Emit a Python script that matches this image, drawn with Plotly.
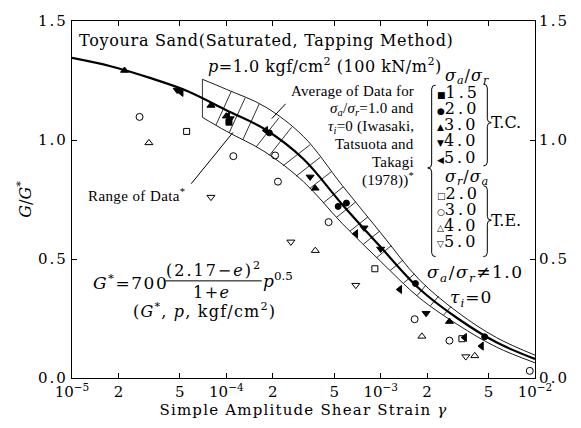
import numpy as np
import plotly.graph_objects as go

# ---------------- data ----------------
# main curve G/G* vs strain
curve_x = [1e-5, 1.78e-5, 3.16e-5, 5.62e-5, 1e-4, 1.78e-4, 3.16e-4, 5.62e-4, 1e-3, 1.78e-3, 3.16e-3, 5.62e-3, 1e-2]
curve_y = [1.345, 1.31, 1.262, 1.205, 1.125, 1.045, 0.92, 0.73, 0.55, 0.375, 0.25, 0.15, 0.08]

# range band (sigma_a/sigma_r = 1.0)
band_x = [7.0e-5, 1e-4, 1.78e-4, 3.16e-4, 5.62e-4, 1e-3, 1.78e-3, 3.16e-3, 5.62e-3, 1e-2]
band_upper = [1.255, 1.213, 1.14, 1.015, 0.81, 0.61, 0.413, 0.276, 0.17, 0.096]
band_lower = [1.095, 1.037, 0.95, 0.825, 0.65, 0.49, 0.337, 0.224, 0.13, 0.064]
hatch_end = 2.8e-3

# T.C. (filled) sigma_a/sigma_r
tc15_x = [1.04e-4]
tc15_y = [1.075]
tc20_x = [1.9e-4, 5.3e-4, 6.0e-4, 1.68e-3, 4.72e-3]
tc20_y = [1.03, 0.721, 0.735, 0.397, 0.173]
tc30_x = [2.19e-5, 7.95e-5, 1.0e-4, 3.76e-4, 2.79e-3]
tc30_y = [1.292, 1.145, 1.10, 0.797, 0.237]
tc40_x = [4.8e-5, 1.06e-4, 3.49e-4, 7.8e-4, 1.0e-3, 1.97e-3]
tc40_y = [1.21, 1.09, 0.845, 0.631, 0.542, 0.272]
tc50_x = [5.1e-5, 1.02e-4, 1.8e-4, 6.9e-4, 1.33e-3, 3.5e-3, 4.5e-3]
tc50_y = [1.20, 1.10, 1.04, 0.606, 0.372, 0.17, 0.134]

# T.E. (open) sigma_r/sigma_a
te20_x = [5.53e-5, 9.17e-4, 3.36e-3]
te20_y = [1.036, 0.459, 0.165]
te30_x = [2.74e-5, 1.11e-4, 2.07e-4, 2.16e-4, 4.6e-4, 1.66e-3, 2.79e-3, 9.25e-3]
te30_y = [1.097, 0.932, 0.935, 0.825, 0.655, 0.247, 0.157, 0.03]
te40_x = [3.15e-5, 3.77e-4, 1.85e-3, 4.07e-3]
te40_y = [0.988, 0.535, 0.175, 0.093]
te50_x = [7.95e-5, 2.62e-4, 6.9e-4, 3.56e-3]
te50_y = [0.76, 0.572, 0.39, 0.09]

x_tickvals = [1e-5, 2e-5, 5e-5, 1e-4, 2e-4, 5e-4, 1e-3, 2e-3, 5e-3, 1e-2]
x_ticktext = ["10<sup>−5</sup>", "2", "5", "10<sup>−4</sup>", "2", "5",
              "10<sup>−3</sup>", "2", "5", "10<sup>−2</sup>"]
y_tickvals = [0.0, 0.5, 1.0, 1.5]
y_ticktext = ["0.0", "0.5", "1.0", "1.5"]

# ---------------- layout geometry ----------------
WIDTH, HEIGHT = 581, 428
ML, MR, MT, MB = 72, 43, 17, 49
PW, PH = WIDTH - ML - MR, HEIGHT - MT - MB
SERIF = "DejaVu Serif"
TIMES = "Liberation Serif"


def sp(s, ls):
    return f'<span style="letter-spacing:{ls}px">{s}</span>'


def px2paper(px, py):
    return (px - ML) / PW, (HEIGHT - MB - py) / PH


fig = go.Figure()

# band edges
for by in (band_upper, band_lower):
    fig.add_trace(go.Scatter(x=band_x, y=by, mode="lines", line=dict(color="black", width=0.9, shape="spline"),
                             showlegend=False, hoverinfo="skip"))

# hatch lines (perpendicular cross-lines between band edges)
sx, sy = PW / 3.0, PH / 1.5
lbx = np.log10(band_x)
fine = np.linspace(lbx[0], lbx[-1], 2000)
up_f = np.interp(fine, lbx, band_upper)
lo_f = np.interp(fine, lbx, band_lower)
step = 13.5 / sx
hx, hy = [], []
t = lbx[0]
first = True
while t <= np.log10(hatch_end) + 1e-9:
    i = int(np.argmin(np.abs(fine - t)))
    d = np.hypot((fine - fine[i]) * sx, (up_f - lo_f[i]) * sy)
    j = 0 if first else int(np.argmin(d))
    first = False
    hx += [10 ** fine[i], 10 ** fine[j], None]
    hy += [lo_f[i], up_f[j], None]
    t += step
fig.add_trace(go.Scatter(x=hx, y=hy, mode="lines", line=dict(color="black", width=0.8),
                         showlegend=False, hoverinfo="skip"))

# main curve
fig.add_trace(go.Scatter(x=curve_x, y=curve_y, mode="lines", line=dict(color="black", width=2.2, shape="spline"),
                         showlegend=False, hoverinfo="skip"))


# data markers
def add_pts(xs, ys, symbol, size):
    fig.add_trace(go.Scatter(x=xs, y=ys, mode="markers",
                             marker=dict(symbol=symbol, size=size, color="black",
                                         line=dict(color="black", width=1)),
                             showlegend=False, hoverinfo="skip"))


add_pts(tc15_x, tc15_y, "square", 6)
add_pts(tc20_x, tc20_y, "circle", 6)
add_pts(tc30_x, tc30_y, "triangle-up", 7)
add_pts(tc40_x, tc40_y, "triangle-down", 7)
add_pts(tc50_x, tc50_y, "triangle-left", 7)
add_pts(te20_x, te20_y, "square-open", 6)
add_pts(te30_x, te30_y, "circle-open", 7)
add_pts(te40_x, te40_y, "triangle-up-open", 7)
add_pts(te50_x, te50_y, "triangle-down-open", 7)

# invisible trace for right axis
fig.add_trace(go.Scatter(x=[1e-4], y=[0.5], yaxis="y2", mode="markers", marker=dict(opacity=0),
                         showlegend=False, hoverinfo="skip"))

ann = []


def text(px, py, s, anchor="left", size=14, family=SERIF):
    x, y = px2paper(px, py)
    ann.append(dict(x=x, y=y, xref="paper", yref="paper", text=s, showarrow=False,
                    xanchor=anchor, yanchor="middle", font=dict(family=family, size=size, color="black")))


text(77, 37, sp("Toyoura Sand(Saturated, Tapping Method)", 0.7), size=16)
text(446, 62, sp("<i>p</i>=1.0 kgf/cm<sup>2</sup> (100 kN/m<sup>2</sup>)", 0.5), anchor="right", size=16)
avg_lines = ["Average of Data for",
             "<i>σ<sub>a</sub></i>/<i>σ<sub>r</sub></i>=1.0 and",
             "<i>τ<sub>i</sub></i>=0 (Iwasaki,",
             "Tatsuota and",
             "Takagi",
             "(1978))<sup>*</sup>"]
for k, s in enumerate(avg_lines):
    text(418, 88 + 18 * k, sp(s, 0.2), anchor="right", size=15, family=TIMES)

text(445, 73, sp("<i>σ<sub>a</sub></i>/<i>σ<sub>r</sub></i>", 1), size=16)
tc_labels = ["■", "●", "▲", "▼", "◀"]
tc_vals = ["1.5", "2.0", "3.0", "4.0", "5.0"]
tc_ys = [89, 105.5, 122, 138.5, 155]
for m, v, yy in zip(tc_labels, tc_vals, tc_ys):
    text(437, yy, '<span style="font-size:9px">' + m + "</span>" + sp(v, 3), size=16)
text(492, 120, "T.C.", size=16)
text(445, 176, sp("<i>σ<sub>r</sub></i>/<i>σ<sub>a</sub></i>", 1), size=16)
te_labels = ["□", "○", "△", "▽"]
te_vals = ["2.0", "3.0", "4.0", "5.0"]
te_ys = [192, 208, 224.5, 241]
for m, v, yy in zip(te_labels, te_vals, te_ys):
    text(437, yy, '<span style="font-size:9px">' + m + "</span>" + sp(v, 3), size=16)
text(492, 219, "T.E.", size=16)

text(427, 273, sp("<i>σ<sub>a</sub></i>/<i>σ<sub>r</sub></i>≠1.0", 1.5), size=17)
text(450, 298, sp("<i>τ<sub>i</sub></i>=0", 1), size=17)
text(86, 193, sp("Range of Data<sup>*</sup>", 0.4), size=15, family=TIMES)

# formula
text(91, 282, sp("<i>G</i><sup>*</sup>=700", 1.5), size=17)
text(215, 269, sp("(2.17−<i>e</i>)<sup>2</sup>", 2), anchor="center", size=16)
text(213, 292, sp("1+<i>e</i>", 1.5), anchor="center", size=16)
text(262, 280, "<i>p</i><sup>0.5</sup>", size=17)
text(131, 311, sp("(<i>G</i><sup>*</sup>, <i>p</i>, kgf/cm<sup>2</sup>)", 1.2), size=16)

shapes = []


def pline(p0, p1, w=1.0):
    x0, y0 = px2paper(*p0)
    x1, y1 = px2paper(*p1)
    shapes.append(dict(type="line", xref="paper", yref="paper", x0=x0, y0=y0, x1=x1, y1=y1,
                       line=dict(color="black", width=w)))


pline((166, 280.5), (263, 280.5), 1)
pline((192, 182), (234, 130), 1)
pline((287, 101), (273, 116), 1)


def brace(xo, xs, xc, y0, ym, y1, r=4):
    pts = [("M", xo, y0), ("Q", xs, y0, xs, y0 + r), ("L", xs, ym - r), ("Q", xs, ym, xc, ym),
           ("Q", xs, ym, xs, ym + r), ("L", xs, y1 - r), ("Q", xs, y1, xo, y1)]
    out = []
    for p in pts:
        coords = p[1:]
        cs = []
        for a in range(0, len(coords), 2):
            X, Y = px2paper(coords[a], coords[a + 1])
            cs.append(f"{X:.5f},{Y:.5f}")
        out.append(p[0] + " " + " ".join(cs))
    shapes.append(dict(type="path", xref="paper", yref="paper", path=" ".join(out),
                       line=dict(color="black", width=1)))


brace(438, 434, 430, 82, 166, 256)
brace(486, 490, 494, 81, 120, 164)
brace(486, 490, 494, 184, 219, 256)

axis_common = dict(showline=True, linecolor="black", linewidth=1.2, ticks="inside", ticklen=5,
                   tickcolor="black", showgrid=False, zeroline=False,
                   tickfont=dict(family=SERIF, size=15, color="black"))

fig.update_layout(
    width=WIDTH, height=HEIGHT,
    margin=dict(l=ML, r=MR, t=MT, b=MB),
    paper_bgcolor="white", plot_bgcolor="white",
    xaxis=dict(type="log", range=[-5, -2], tickvals=x_tickvals, ticktext=x_ticktext, mirror="ticks",
               title=dict(text=sp("Simple Amplitude Shear Strain <i>γ</i>", 1.2), standoff=4,
                          font=dict(family=SERIF, size=15, color="black")),
               **axis_common),
    yaxis=dict(range=[0, 1.5], tickvals=y_tickvals, ticktext=[sp(s, 2) for s in y_ticktext], mirror="ticks",
               title=dict(text="<i>G</i>/<i>G</i><sup>*</sup>", standoff=2,
                          font=dict(family=SERIF, size=16, color="black")),
               **axis_common),
    yaxis2=dict(range=[0, 1.5], tickvals=y_tickvals, ticktext=[sp(s, 2) for s in y_ticktext],
                overlaying="y", side="right", **axis_common),
    annotations=ann, shapes=shapes,
)

fig.write_html("out.html")
